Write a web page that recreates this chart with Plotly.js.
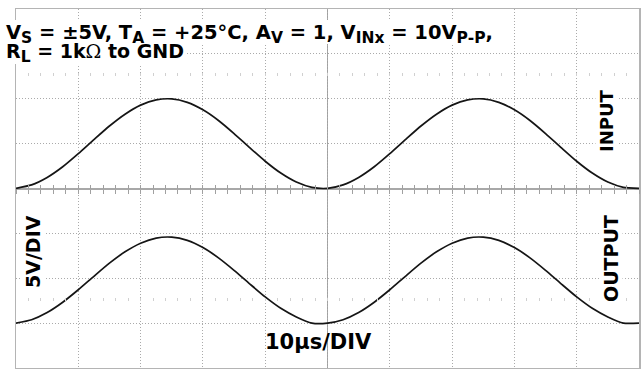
<!DOCTYPE html>
<html>
<head>
<meta charset="utf-8">
<script src="https://cdn.plot.ly/plotly-3.0.1.min.js"></script>
<style>html,body{margin:0;padding:0;background:#fff;}#chart{width:643px;height:369px;}</style>
</head>
<body>
<div id="chart"></div>
<script>
// time in microseconds (10 us / division)
var timeUs = [0,2.5,5,7.5,10,12.5,15,17.5,20,22.5,25,27.5,30,32.5,35,37.5,40,42.5,45,47.5,50,
              52.5,55,57.5,60,62.5,65,67.5,70,72.5,75,77.5,80,82.5,85,87.5,90,92.5,95,97.5,100];
// displayed input trace (V, screen offset applied, 5 V/div)
var inputV = [0.02,0.40,1.23,2.42,3.88,5.44,6.96,8.28,9.29,9.87,9.98,9.60,8.77,7.58,6.12,4.56,3.04,1.72,0.72,0.13,0.02,
              0.40,1.23,2.42,3.88,5.44,6.96,8.28,9.29,9.87,9.98,9.60,8.77,7.58,6.12,4.56,3.04,1.72,0.72,0.13,0.02];
// displayed output trace (V, screen offset applied)
var outputV = [-15.0,-14.62,-13.82,-12.67,-11.28,-9.78,-8.32,-7.05,-6.09,-5.52,-5.42,-5.78,-6.58,-7.73,-9.12,-10.62,-12.08,-13.35,-14.31,-15.0,-15.0,
               -14.62,-13.82,-12.67,-11.28,-9.78,-8.32,-7.05,-6.09,-5.52,-5.42,-5.78,-6.58,-7.73,-9.12,-10.62,-12.08,-13.35,-14.31,-15.0,-15.0];
function sb(s){ return "<sub><span style=\"font-size:15.5px\">" + s + "</span></sub>"; }
var titleLine1 = "V" + sb("S") + " = ±5V, T" + sb("A") + " = +25°C, A" + sb("V") + " = 1, V" + sb("INx") + " = 10V" + sb("P-P") + ",";
var titleLine2 = "R" + sb("L") + " = 1k<span style=\"font-family:'DejaVu Serif';font-weight:normal\">Ω</span> to GND";
var labelInput = "INPUT", labelOutput = "OUTPUT", labelV = "5V/DIV", labelT = "10µs/DIV";

var FONT = "DejaVu Sans, Verdana, sans-serif";
var traceStyle = {color:'#151515', width:1.7, shape:'spline', smoothing:0.6};
var data = [
  {x: timeUs, y: inputV, mode:'lines', line: traceStyle, hoverinfo:'skip', showlegend:false},
  {x: timeUs, y: outputV, mode:'lines', line: traceStyle, hoverinfo:'skip', showlegend:false},
  {x: [], y: [], xaxis:'x2', yaxis:'y', showlegend:false},
  {x: [], y: [], xaxis:'x3', yaxis:'y', showlegend:false},
  {x: [], y: [], xaxis:'x4', yaxis:'y', showlegend:false},
  {x: [], y: [], xaxis:'x5', yaxis:'y', showlegend:false}
];
function tickAxis(pos, dir, len, col, w){
  return {overlaying:'x', anchor:'free', position:pos, range:[0,100], dtick:2, tick0:0,
          ticks:dir, ticklen:len, tickcolor:col, tickwidth:w, showticklabels:false,
          showgrid:false, zeroline:false, showline:false, fixedrange:true};
}
function px(x){ return (x-16)/623; }
function py(y){ return (368-y)/359; }
var layout = {
  width:643, height:369,
  margin:{l:16, r:4, t:9, b:1, pad:0},
  paper_bgcolor:'#fff', plot_bgcolor:'#fff',
  font:{family:FONT, color:'#000'},
  xaxis:{range:[0,100], dtick:10, tick0:0, showgrid:true, gridcolor:'#aaaaaa', griddash:'1px,2px', gridwidth:1,
         showticklabels:false, ticks:'', zeroline:false, showline:true, mirror:true, linecolor:'#b4b4b4', linewidth:1.5},
  yaxis:{range:[-20,20], dtick:5, tick0:0, showgrid:true, gridcolor:'#aaaaaa', griddash:'1px,2px', gridwidth:1,
         showticklabels:false, ticks:'', zeroline:true, zerolinecolor:'#a8a8a8', zerolinewidth:2,
         showline:true, mirror:true, linecolor:'#b4b4b4', linewidth:1.5},
  xaxis2: tickAxis(0.5, 'outside', 4, '#a0a0a0', 1),
  xaxis3: tickAxis(0.5, 'inside', 4, '#a0a0a0', 1),
  xaxis4: tickAxis(0.8125, 'inside', 3, '#d0d0d0', 1),
  xaxis5: tickAxis(0.1875, 'inside', 3, '#d0d0d0', 1),
  shapes:[
    {type:'line', xref:'x', yref:'paper', x0:50, x1:50, y0:0, y1:1, line:{color:'#a0a0a0', width:1}, layer:'below'},
    {type:'rect', xref:'paper', yref:'paper', x0:px(3), x1:px(500), y0:py(44), y1:py(20), fillcolor:'#fff', line:{width:0}, layer:'above'},
    {type:'rect', xref:'paper', yref:'paper', x0:px(3), x1:px(186), y0:py(64), y1:py(44), fillcolor:'#fff', line:{width:0}, layer:'above'}
  ],
  annotations:[
    {text:titleLine1, xref:'paper', yref:'paper', x:px(5), y:py(20), xanchor:'left', yanchor:'top',
     showarrow:false, borderpad:0, font:{family:FONT, size:19.5, weight:700, color:'#000'}},
    {text:titleLine2, xref:'paper', yref:'paper', x:px(5), y:py(39), xanchor:'left', yanchor:'top',
     showarrow:false, borderpad:0, font:{family:FONT, size:19, weight:700, color:'#000'}},
    {text:labelInput, xref:'paper', yref:'paper', x:px(607), y:py(121), xanchor:'center', yanchor:'middle', textangle:-90,
     showarrow:false, bgcolor:'#fff', borderpad:0, font:{family:FONT, size:18, weight:700, color:'#000'}},
    {text:labelOutput, xref:'paper', yref:'paper', x:px(611), y:py(259), xanchor:'center', yanchor:'middle', textangle:-90,
     showarrow:false, bgcolor:'#fff', borderpad:0, font:{family:FONT, size:19, weight:700, color:'#000'}},
    {text:labelV, xref:'paper', yref:'paper', x:px(33), y:py(252), xanchor:'center', yanchor:'middle', textangle:-90,
     showarrow:false, bgcolor:'#fff', borderpad:0, font:{family:FONT, size:19, weight:700, color:'#000'}},
    {text:labelT, xref:'paper', yref:'paper', x:px(318), y:py(342), xanchor:'center', yanchor:'middle',
     showarrow:false, font:{family:FONT, size:21, weight:700, color:'#000'}}
  ]
};
Plotly.newPlot('chart', data, layout, {staticPlot:true, displayModeBar:false});
</script>
</body>
</html>
